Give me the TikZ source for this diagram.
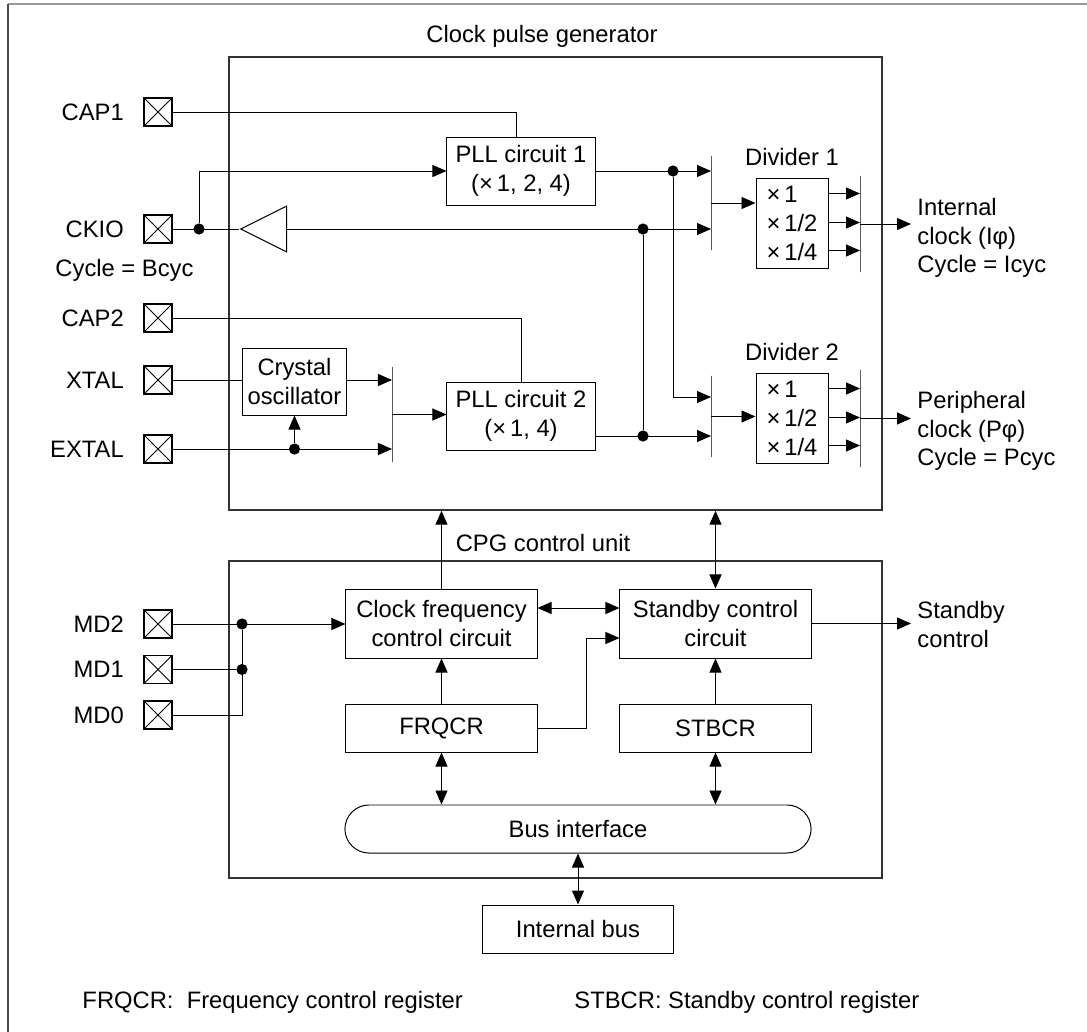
\documentclass[tikz,border=0pt]{standalone}
\usepackage{fontspec}
\setmainfont{Liberation Sans}
\usetikzlibrary{positioning,arrows.meta,calc,shapes.geometric}

\begin{document}
\begin{tikzpicture}[
    x=0.025cm, y=-0.025cm,
    line width=0.7pt,
    font=\fontsize{16.9}{20.5}\selectfont,
    block/.style={draw, align=center, inner sep=1pt},
    wide/.style={minimum width=4.775cm, minimum height=1.2cm},
    unitbox/.style={draw=black!80, line width=0.9pt, minimum width=16.325cm},
    pad/.style={draw, line width=0.8pt, minimum size=0.7cm, inner sep=0pt,
        path picture={\draw[line width=0.6pt] (path picture bounding box.north west) -- (path picture bounding box.south east)
            (path picture bounding box.south west) -- (path picture bounding box.north east);}},
    padlabel/.style={inner sep=0pt},
    outlabel/.style={anchor=west, align=left, inner sep=0pt},
    mux/.style={draw, minimum width=0pt, inner sep=0pt},
    buffer/.style={draw, isosceles triangle, isosceles triangle stretches, shape border rotate=180,
        minimum width=1.15cm, minimum height=1.15cm, inner sep=0pt},
    divbox/.style={draw, align=left, minimum width=1.8cm, minimum height=2.225cm, inner sep=1pt},
    dot/.style={circle, fill, inner sep=0pt, minimum size=0.28cm},
    arrow/.style={-{Triangle[length=0.35cm,width=0.3cm]}},
    dblarrow/.style={{Triangle[length=0.35cm,width=0.3cm]}-{Triangle[length=0.35cm,width=0.3cm]}}
]
\useasboundingbox (0,0) rectangle (1087,1032);
\draw[black!40, line width=1pt] (1087,4) -- (8,4);
\draw[black!70, line width=0.8pt] (8,4) -- (8,1032);

% Units
\node[unitbox, minimum height=11.325cm] (cpg) at (555.5,283.5) {};
\node (cpgtitle) at (542,36) {Clock pulse generator};
\node[unitbox, minimum height=7.925cm] (ctrl) at (555.5,719.5) {};
\node (ctrltitle) at (543,543) {CPG control unit};

% Pins
\node[pad] (cap1) at (158,112) {};
\node[pad] (ckio) at (158,229) {};
\node[pad] (cap2) at (158,318) {};
\node[pad] (xtal) at (158,380) {};
\node[pad] (extal) at (158,449) {};
\node[pad] (md2) at (158,624) {};
\node[pad] (md1) at (158,669.5) {};
\node[pad] (md0) at (158,715) {};
\node[padlabel, left=0.48cm of cap1] (cap1lbl) {CAP1};
\node[padlabel, left=0.48cm of ckio] (ckiolbl) {CKIO};
\node[padlabel, left=0.48cm of cap2] (cap2lbl) {CAP2};
\node[padlabel, left=0.48cm of xtal] (xtallbl) {XTAL};
\node[padlabel, left=0.48cm of extal] (extallbl) {EXTAL};
\node[padlabel, left=0.48cm of md2] (md2lbl) {MD2};
\node[padlabel, left=0.48cm of md1] (md1lbl) {MD1};
\node[padlabel, left=0.48cm of md0] (md0lbl) {MD0};
\node (ckiocyc) at (124.5,270) {Cycle = Bcyc};

% Clock pulse generator
\node[block, minimum width=3.7cm, minimum height=1.7cm] (pll1) at (521,171) {PLL circuit 1\\(×\,1, 2, 4)};
\node[block, minimum width=3.7cm, minimum height=1.7cm] (pll2) at (521,416) {PLL circuit 2\\(×\,1, 4)};
\node[block, minimum width=2.575cm, minimum height=1.675cm] (osc) at (294.5,381.5) {Crystal\\oscillator};
\node[buffer] (buf) at (272.5,229) {};
\node[divbox] (div1) at (792,223.5) {×\,1\\×\,1/2\\×\,1/4};
\node[divbox] (div2) at (792,418.5) {×\,1\\×\,1/2\\×\,1/4};
\node[inner sep=0pt, above=0.3cm of div1] (div1lbl) {Divider 1};
\node[inner sep=0pt, above=0.3cm of div2] (div2lbl) {Divider 2};
\node[mux, minimum height=2.375cm] (mux0) at (392,414.5) {};
\node[mux, minimum height=2.35cm] (mux1) at (711,203) {};
\node[mux, minimum height=2.4cm] (mux2) at (860,224) {};
\node[mux, minimum height=2.025cm] (mux3) at (711,416.5) {};
\node[mux, minimum height=2.425cm] (mux4) at (860,418.5) {};
\node[outlabel] (iclk) at (917,238) {Internal\\clock (Iφ)\\Cycle = Icyc};
\node[outlabel] (pclk) at (917,431) {Peripheral\\clock (Pφ)\\Cycle = Pcyc};

% CPG control unit
\node[block, wide, minimum height=1.725cm] (clkfreq) at (441.5,623.5) {Clock frequency\\control circuit};
\node[block, wide, minimum height=1.725cm] (stby) at (715.5,623.5) {Standby control\\circuit};
\node[block, wide, below=1.125cm of clkfreq] (frqcr) {FRQCR};
\node[block, wide, below=1.125cm of stby] (stbcr) {STBCR};
\node[draw, rounded corners=0.6cm, minimum width=11.65cm, minimum height=1.2cm] (busif) at (578,829) {Bus interface};
\node[block, wide, below=1.275cm of busif] (intbus) {Internal bus};
\node[outlabel] (stbyout) at (917,624.5) {Standby\\control};

% Notes
\node[anchor=west, inner sep=0pt] (note1) at (82,1002) {FRQCR:\ \ Frequency control register};
\node[anchor=west, inner sep=0pt] (note2) at (574,1002) {STBCR: Standby control register};

% Junctions
\node[dot] (ckj) at (199,229) {};
\node[dot] (bufj) at (643,229) {};
\node[dot] (pll1j) at (673,171) {};
\node[dot] (pll2j) at (643,436) {};
\node[dot] (extj) at (extal -| osc.south) {};
\node[dot] (mdj2) at (md2 -| 242,0) {};
\node[dot] (mdj1) at (md1 -| mdj2) {};

% Clock paths
\draw (cap1.east) -| ($(pll1.north)+(-5,0)$);
\draw (cap2.east) -| (pll2.north);
\draw (ckio.east) -- (buf.apex);
\draw[arrow] (ckj) |- (pll1.west);
\draw[arrow] (buf.lower side) -- (buf -| mux1);
\draw[arrow] (pll1.east) -- (pll1 -| mux1);
\draw[arrow] (pll1j) |- (mux3 |- 0,397);
\draw (bufj) -- (pll2j);
\draw[arrow] (pll2j -| pll2.east) -- (pll2j -| mux3);
\draw (xtal.east) -- (xtal -| osc.west);
\draw[arrow] (xtal -| osc.east) -- (xtal -| mux0);
\draw[arrow] (extal.east) -- (extal -| mux0);
\draw[arrow] (extj) -- (osc.south);
\draw[arrow] (mux0) -- (mux0 -| pll2.west);
\draw[arrow] (mux1) -- (mux1 -| div1.west);
\draw[arrow] (mux3) -- (mux3 -| div2.west);
\foreach \dy in {-30,-1,27} {
    \path ($(div1.east)+(0,\dy)$) coordinate (o1) ($(div2.east)+(0,\dy)$) coordinate (o2);
    \draw[arrow] (o1) -- (o1 -| mux2);
    \draw[arrow] (o2) -- (o2 -| mux4);
}
\draw[arrow, shorten >=0.15cm] (mux2) -- (mux2 -| iclk.west);
\draw[arrow, shorten >=0.15cm] (mux4) -- (mux4 -| pclk.west);

% Control paths
\draw[arrow] (clkfreq.north) -- (clkfreq.north |- cpg.south);
\draw[dblarrow] (stby.north) -- (stby.north |- cpg.south);
\draw[arrow] (md2.east) -- (md2 -| clkfreq.west);
\draw (md1.east) -- (mdj1);
\draw (md0.east) -| (mdj2);
\draw[dblarrow] ($(clkfreq.east)+(0,-15.5)$) -- ($(stby.west)+(0,-15.5)$);
\coordinate (fbend) at ($(stby.west)+(-33,14.5)$);
\draw[arrow] (frqcr.east) -| (fbend) -- (fbend -| stby.west);
\draw[arrow] (frqcr) -- (clkfreq);
\draw[arrow] (stbcr) -- (stby);
\draw[dblarrow] (frqcr.south) -- (frqcr.south |- busif.north);
\draw[dblarrow] (stbcr.south) -- (stbcr.south |- busif.north);
\draw[dblarrow] (busif.south) -- (busif.south |- intbus.north);
\draw[arrow, shorten >=0.15cm] (stby.east) -- (stby -| stbyout.west);
\end{tikzpicture}
\end{document}
